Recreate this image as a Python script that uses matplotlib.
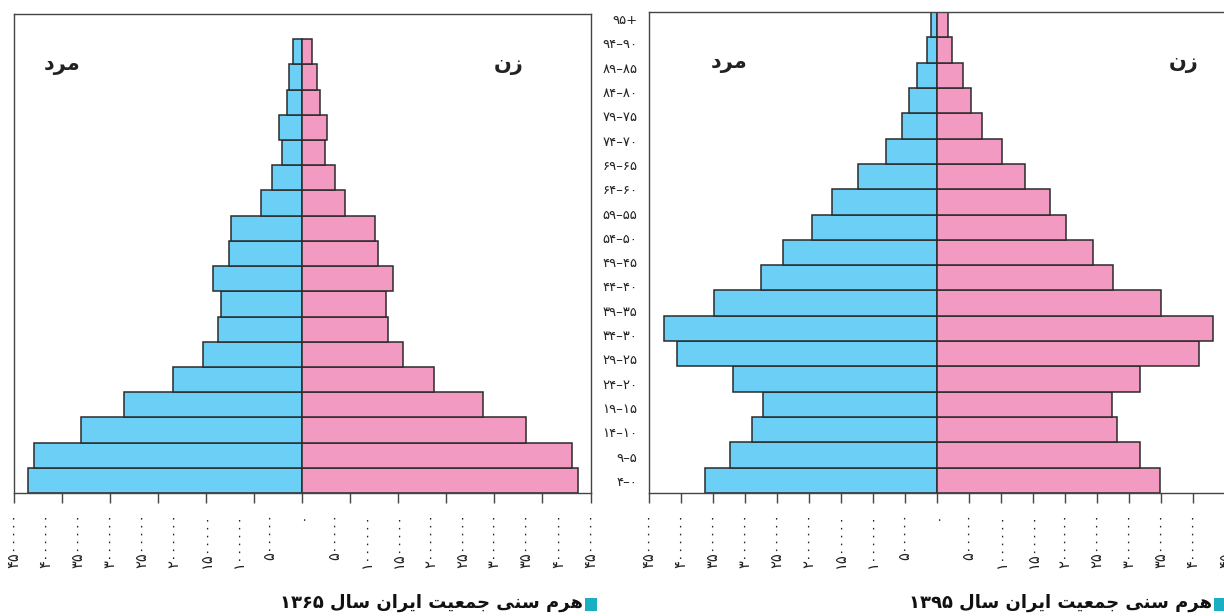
import matplotlib
matplotlib.use("Agg")
import matplotlib.pyplot as plt
from matplotlib.patches import Rectangle
import numpy as np

# ---------------- data ----------------
age_labels = ["۹۵+", "۹۴–۹۰", "۸۹–۸۵", "۸۴–۸۰", "۷۹–۷۵", "۷۴–۷۰", "۶۹–۶۵", "۶۴–۶۰",
              "۵۹–۵۵", "۵۴–۵۰", "۴۹–۴۵", "۴۴–۴۰", "۳۹–۳۵", "۳۴–۳۰", "۲۹–۲۵",
              "۲۴–۲۰", "۱۹–۱۵", "۱۴–۱۰", "۹–۵", "۴–۰"]

# 1365 (bottom age group first)
male_1365 = [4.28e6, 4.18e6, 3.46e6, 2.79e6, 2.02e6, 1.55e6, 1.31e6, 1.27e6, 1.39e6,
             1.15e6, 1.11e6, 0.64e6, 0.48e6, 0.32e6, 0.36e6, 0.24e6, 0.20e6, 0.14e6]
female_1365 = [4.31e6, 4.21e6, 3.49e6, 2.82e6, 2.06e6, 1.58e6, 1.34e6, 1.30e6, 1.42e6,
               1.18e6, 1.14e6, 0.66e6, 0.51e6, 0.35e6, 0.38e6, 0.27e6, 0.23e6, 0.16e6]

# 1395 (bottom age group first)
male_1395 = [3.62e6, 3.23e6, 2.88e6, 2.72e6, 3.19e6, 4.05e6, 4.26e6, 3.48e6, 2.75e6,
             2.40e6, 1.95e6, 1.64e6, 1.23e6, 0.80e6, 0.55e6, 0.44e6, 0.31e6, 0.16e6, 0.09e6]
female_1395 = [3.48e6, 3.16e6, 2.81e6, 2.73e6, 3.17e6, 4.09e6, 4.31e6, 3.49e6, 2.74e6,
               2.43e6, 2.02e6, 1.77e6, 1.37e6, 1.01e6, 0.70e6, 0.53e6, 0.40e6, 0.23e6, 0.17e6]

label_values = [v * 500000 for v in range(-9, 10)]
tick_1365 = [v * 750000 for v in range(-6, 7)]
tick_1395 = [v * 500000 for v in range(-9, 10)]

title_1365 = "هرم سنی جمعیت ایران سال ۱۳۶۵"
title_1395 = "هرم سنی جمعیت ایران سال ۱۳۹۵"
man_txt = "مرد"
woman_txt = "زن"

# ---------------- simple Persian shaping ----------------
FORMS = {
    'ا': ('\uFE8D', '\uFE8E', None, None),
    'د': ('\uFEA9', '\uFEAA', None, None),
    'ر': ('\uFEAD', '\uFEAE', None, None),
    'ز': ('\uFEAF', '\uFEB0', None, None),
    'ه': ('\uFEE9', '\uFEEA', '\uFEEB', '\uFEEC'),
    'م': ('\uFEE1', '\uFEE2', '\uFEE3', '\uFEE4'),
    'س': ('\uFEB1', '\uFEB2', '\uFEB3', '\uFEB4'),
    'ن': ('\uFEE5', '\uFEE6', '\uFEE7', '\uFEE8'),
    'ی': ('\uFEEF', '\uFEF0', '\uFEF3', '\uFEF4'),
    'ج': ('\uFE9D', '\uFE9E', '\uFE9F', '\uFEA0'),
    'ع': ('\uFEC9', '\uFECA', '\uFECB', '\uFECC'),
    'ت': ('\uFE95', '\uFE96', '\uFE97', '\uFE98'),
    'ل': ('\uFEDD', '\uFEDE', '\uFEDF', '\uFEE0'),
}


def shape_word(w):
    out = []
    for i, ch in enumerate(w):
        f = FORMS.get(ch)
        if f is None:
            out.append(ch)
            continue
        prev = w[i - 1] if i > 0 else None
        nxt = w[i + 1] if i + 1 < len(w) else None
        jp = prev in FORMS and FORMS[prev][2] is not None
        jn = nxt in FORMS and f[2] is not None
        if jp and jn:
            out.append(f[3])
        elif jp:
            out.append(f[1])
        elif jn:
            out.append(f[2])
        else:
            out.append(f[0])
    return ''.join(out)


def rtl(text):
    toks = text.split(' ')
    vis = []
    for t in reversed(toks):
        if any(ch in FORMS for ch in t):
            vis.append(shape_word(t)[::-1])
        else:
            vis.append(t)
    return ' '.join(vis)


FA = str.maketrans("0123456789", "۰۱۲۳۴۵۶۷۸۹")


def fa_num(v):
    return str(abs(int(round(v)))).translate(FA)


# ---------------- style ----------------
plt.rcParams['font.family'] = ['DejaVu Sans']
BLUE = "#6BCFF6"
PINK = "#F39AC3"
EDGE = "#2b2b2b"
FRAME = "#444444"
TEAL = "#1AAFC2"

W, H = 1224, 616
fig = plt.figure(figsize=(W / 100, H / 100), dpi=100)


def fx(px):
    return px / W


def fy(py):
    return 1 - py / H


def make_panel(rect, male, female, nslots, ticks, same_ticks):
    ax = fig.add_axes(rect)
    y = np.arange(len(male))
    ax.barh(y, -np.array(male), height=1.0, color=BLUE, edgecolor=EDGE, linewidth=1.1)
    ax.barh(y, np.array(female), height=1.0, color=PINK, edgecolor=EDGE, linewidth=1.1)
    ax.set_xlim(-4.5e6, 4.5e6)
    ax.set_ylim(-0.5, nslots - 0.5)
    ax.set_yticks([])
    for s in ax.spines.values():
        s.set_color(FRAME)
        s.set_linewidth(1.0)
    ax.xaxis.remove_overlapping_locs = False
    ax.set_xticks(label_values)
    ax.set_xticklabels([fa_num(v) for v in label_values], rotation=90,
                       fontsize=10.5, va='top', ha='center', color="#222222")
    if same_ticks:
        ax.tick_params(axis='x', which='major', length=7, width=1.0, color=FRAME,
                       direction='out', pad=7)
    else:
        ax.tick_params(axis='x', which='major', length=0, pad=14)
        ax.set_xticks(ticks, minor=True)
        ax.tick_params(axis='x', which='minor', length=7, width=1.0, color=FRAME,
                       direction='out')
    return ax


# left panel 1365
axL = make_panel([fx(14), fy(493), fx(590.5) - fx(14), fy(14) - fy(493)],
                 male_1365, female_1365, 19, tick_1365, False)
# right panel 1395
axR = make_panel([fx(648.6), fy(493), fx(1225.4) - fx(648.6), fy(12) - fy(493)],
                 male_1395, female_1395, 19, tick_1395, True)

# age label column
axA = fig.add_axes([fx(639), fy(493), 0.0005, fy(7) - fy(493)])
axA.set_ylim(-0.5, len(age_labels) - 0.5)
axA.set_yticks(np.arange(len(age_labels))[::-1])
axA.set_yticklabels(age_labels, fontsize=9.5, color="#222222")
axA.tick_params(axis='y', length=0, pad=1)
axA.set_xticks([])
for s in axA.spines.values():
    s.set_visible(False)
axA.patch.set_visible(False)

# sex labels
for ax, xm, xw in [(axL, 0.083, 0.858), (axR, 0.139, 0.927)]:
    ax.text(xm, 0.894, rtl(man_txt), transform=ax.transAxes, ha='center', va='center',
            fontsize=15, fontweight='bold', color="#222222")
    ax.text(xw, 0.894, rtl(woman_txt), transform=ax.transAxes, ha='center', va='center',
            fontsize=15, fontweight='bold', color="#222222")

# titles with teal square
for title, xr in [(title_1365, 583), (title_1395, 1212)]:
    fig.text(fx(xr), fy(603), rtl(title), ha='right', va='center', fontsize=13,
             fontweight='bold', color="#111111")
    fig.patches.append(Rectangle((fx(xr + 2), fy(611)), fx(12), fy(598) - fy(611),
                                 transform=fig.transFigure, facecolor=TEAL,
                                 edgecolor='none'))

fig.savefig("out.png", dpi=100)
